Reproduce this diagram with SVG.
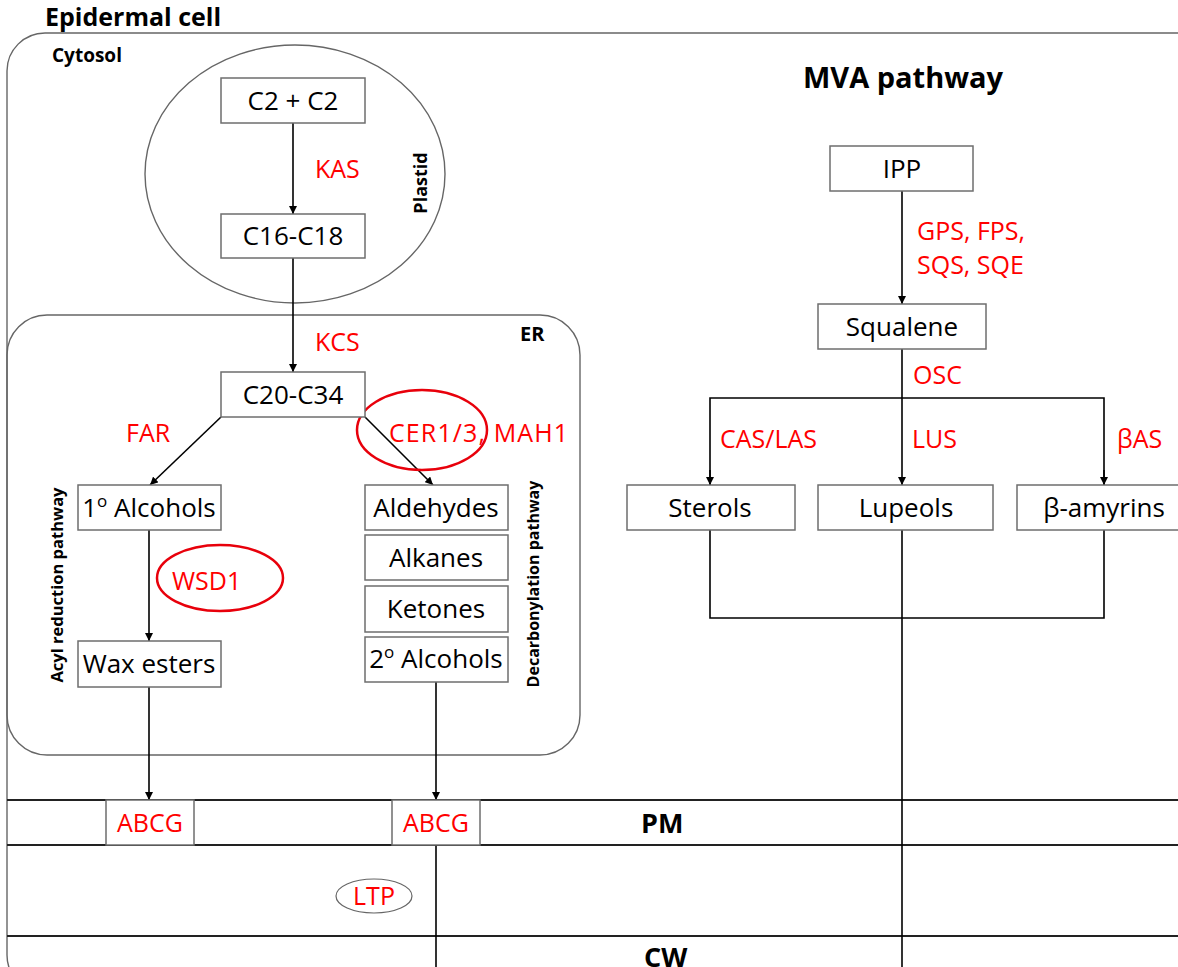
<svg xmlns="http://www.w3.org/2000/svg" width="1178" height="967" viewBox="0 0 1178 967">
<style>
.box{fill:#fff;stroke:#6e6e6e;stroke-width:1.5}
.bt{font-family:"Open Sans","Liberation Sans",sans-serif;font-size:26px;fill:#000;text-anchor:middle}
.red{font-family:"Open Sans","Liberation Sans",sans-serif;font-size:25px;fill:#ff0000}
.lab{font-family:"Open Sans","Liberation Sans",sans-serif;font-weight:bold;fill:#000}
.ln{fill:none;stroke:#000;stroke-width:1.6}
.arr{fill:none;stroke:#000;stroke-width:1.6;marker-end:url(#ah)}
.mem{fill:none;stroke:#222;stroke-width:1.8}
.org{fill:none;stroke:#666;stroke-width:1.4}
.hl{fill:none;stroke:#e8000b;stroke-width:2.5}
</style>
<defs>
<marker id="ah" viewBox="0 0 10 10" refX="10" refY="5" markerWidth="8" markerHeight="8" markerUnits="userSpaceOnUse" orient="auto">
<path d="M0,0 L10,5 L0,10 z" fill="#000"/>
</marker>
</defs>
<rect width="1178" height="967" fill="#fff"/>

<g id="compartments">
<rect class="org" x="7" y="33" width="1240" height="960" rx="38"/>
<text class="lab" x="45" y="26" font-size="25">Epidermal cell</text>
<text class="lab" x="52" y="62" font-size="19">Cytosol</text>
<ellipse class="org" cx="295" cy="174" rx="150" ry="129"/>
<text class="lab" font-size="18" text-anchor="middle" transform="translate(427,183) rotate(-90)">Plastid</text>
<rect class="org" x="7" y="315" width="573" height="440" rx="40"/>
<text class="lab" x="520" y="341" font-size="20">ER</text>
<text class="lab" font-size="16.5" text-anchor="middle" transform="translate(63,585) rotate(-90)">Acyl reduction pathway</text>
<text class="lab" font-size="16" text-anchor="middle" transform="translate(539,584) rotate(-90)">Decarbonylation pathway</text>
<text class="lab" x="803" y="88" font-size="29">MVA pathway</text>
<line class="mem" x1="7" y1="800" x2="1178" y2="800"/>
<line class="mem" x1="7" y1="845" x2="1178" y2="845"/>
<line class="mem" x1="7" y1="936" x2="1178" y2="936"/>
<text class="lab" x="641" y="833" font-size="27">PM</text>
<text class="lab" x="644" y="967" font-size="27">CW</text>
</g>

<g id="connectors">
<line class="arr" x1="293" y1="123" x2="293" y2="214"/>
<line class="arr" x1="293" y1="258" x2="293" y2="372"/>
<line class="arr" x1="221" y1="417" x2="150" y2="485"/>
<line class="arr" x1="365" y1="417" x2="433" y2="485"/>
<line class="arr" x1="149" y1="530" x2="149" y2="641"/>
<line class="arr" x1="149" y1="687" x2="149" y2="800"/>
<line class="arr" x1="436" y1="682" x2="436" y2="800"/>
<line class="ln" x1="436" y1="845" x2="436" y2="967"/>
<line class="arr" x1="902" y1="191" x2="902" y2="304"/>
<line class="arr" x1="902" y1="349" x2="902" y2="485"/>
<polyline class="ln" points="710,485 710,398 1104,398 1104,485"/>
<line class="arr" x1="710" y1="470" x2="710" y2="485"/>
<line class="arr" x1="1104" y1="470" x2="1104" y2="485"/>
<polyline class="ln" points="710,530 710,618 1104,618 1104,530"/>
<line class="ln" x1="902" y1="530" x2="902" y2="967"/>
</g>

<g id="labels">
<text class="red" x="315" y="178">KAS</text>
<text class="red" x="315" y="351">KCS</text>
<text class="red" x="126" y="442">FAR</text>
<text class="red" x="389" y="442" textLength="179" lengthAdjust="spacing">CER1/3, MAH1</text>
<ellipse class="hl" cx="422" cy="430" rx="65" ry="40"/>
<ellipse class="hl" cx="220" cy="578" rx="63" ry="33"/>
<text class="red" x="172" y="590">WSD1</text>
<text class="red" x="917" y="240">GPS, FPS,</text>
<text class="red" x="917" y="274">SQS, SQE</text>
<text class="red" x="913" y="384">OSC</text>
<text class="red" x="720" y="448">CAS/LAS</text>
<text class="red" x="912" y="448">LUS</text>
<text class="red" x="1117" y="448">βAS</text>
</g>

<g id="n-c2c2"><rect class="box" x="221" y="78" width="144" height="45"/><text class="bt" x="293" y="110">C2 + C2</text></g>
<g id="n-c16c18"><rect class="box" x="221" y="214" width="144" height="44"/><text class="bt" x="293" y="245">C16-C18</text></g>
<g id="n-c20c34"><rect class="box" x="221" y="372" width="144" height="45"/><text class="bt" x="293" y="404">C20-C34</text></g>
<g id="n-alc1"><rect class="box" x="78" y="485" width="143" height="45"/><text class="bt" x="149" y="517">1<tspan font-size="17" dy="-10">o</tspan><tspan dy="10"> Alcohols</tspan></text></g>
<g id="n-wax"><rect class="box" x="78" y="641" width="143" height="46"/><text class="bt" x="149" y="673">Wax esters</text></g>
<g id="n-ald"><rect class="box" x="365" y="485" width="143" height="45"/><text class="bt" x="436" y="517">Aldehydes</text></g>
<g id="n-alk"><rect class="box" x="365" y="535" width="143" height="45"/><text class="bt" x="436" y="567">Alkanes</text></g>
<g id="n-ket"><rect class="box" x="365" y="586" width="143" height="46"/><text class="bt" x="436" y="618">Ketones</text></g>
<g id="n-alc2"><rect class="box" x="365" y="637" width="143" height="45"/><text class="bt" x="436" y="668">2<tspan font-size="17" dy="-10">o</tspan><tspan dy="10"> Alcohols</tspan></text></g>
<g id="n-abcg1"><rect class="box" x="106" y="800" width="88" height="45"/><text class="red" x="150" y="832" text-anchor="middle">ABCG</text></g>
<g id="n-abcg2"><rect class="box" x="392" y="800" width="88" height="45"/><text class="red" x="436" y="832" text-anchor="middle">ABCG</text></g>
<g id="n-ltp"><ellipse cx="374" cy="896" rx="38" ry="17" fill="#fff" stroke="#666" stroke-width="1.2"/><text class="red" x="374" y="905" text-anchor="middle">LTP</text></g>
<g id="n-ipp"><rect class="box" x="830" y="146" width="143" height="45"/><text class="bt" x="902" y="178">IPP</text></g>
<g id="n-squalene"><rect class="box" x="818" y="304" width="168" height="45"/><text class="bt" x="902" y="336">Squalene</text></g>
<g id="n-sterols"><rect class="box" x="627" y="485" width="168" height="45"/><text class="bt" x="710" y="517">Sterols</text></g>
<g id="n-lupeols"><rect class="box" x="818" y="485" width="175" height="45"/><text class="bt" x="906" y="517">Lupeols</text></g>
<g id="n-bamyrins"><rect class="box" x="1017" y="485" width="170" height="45"/><text class="bt" x="1104" y="517">β-amyrins</text></g>
</svg>
